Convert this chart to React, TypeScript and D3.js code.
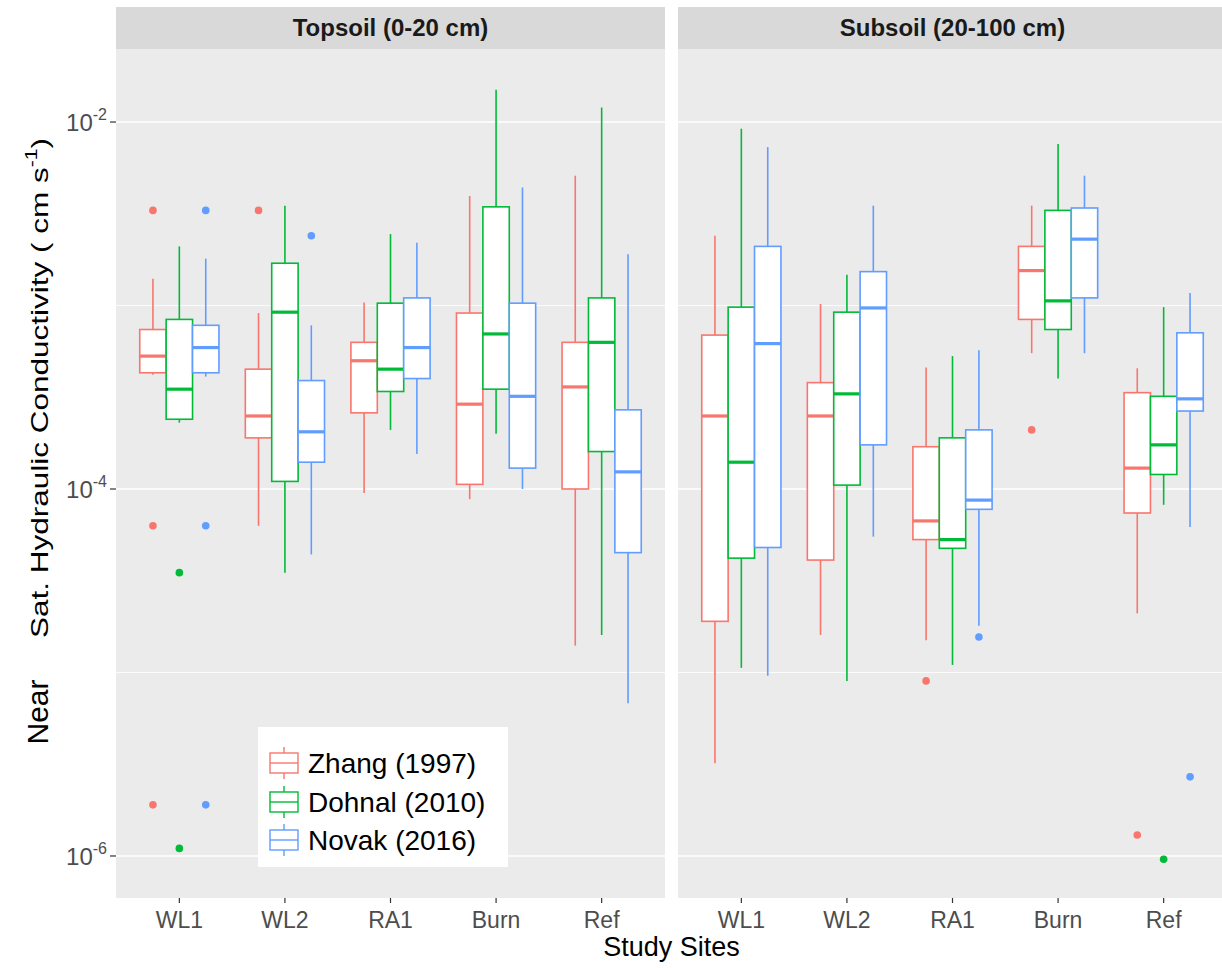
import React from "react";
import * as d3 from "d3";

const SITES = ["WL1", "WL2", "RA1", "Burn", "Ref"];
const STUDIES = ["Zhang (1997)", "Dohnal (2010)", "Novak (2016)"];
const DEPTHS = ["Topsoil (0-20 cm)", "Subsoil (20-100 cm)"];
const COLORS = ["#F8766D", "#00BA38", "#619CFF"];

// box stats per site: [lower whisker, Q1, median, Q3, upper whisker]  (cm s-1)
const topZhang = [
  [4.2e-4, 4.3e-4, 5.3e-4, 7.4e-4, 1.4e-3],
  [6.3e-5, 1.9e-4, 2.5e-4, 4.5e-4, 9.1e-4],
  [9.5e-5, 2.6e-4, 5.0e-4, 6.3e-4, 1.04e-3],
  [8.8e-5, 1.06e-4, 2.9e-4, 9.1e-4, 3.95e-3],
  [1.4e-5, 1.0e-4, 3.6e-4, 6.3e-4, 5.1e-3],
];
const topDohnal = [
  [2.3e-4, 2.4e-4, 3.5e-4, 8.4e-4, 2.1e-3],
  [3.5e-5, 1.1e-4, 9.2e-4, 1.7e-3, 3.5e-3],
  [2.1e-4, 3.4e-4, 4.5e-4, 1.03e-3, 2.45e-3],
  [2.0e-4, 3.5e-4, 7.0e-4, 3.45e-3, 1.5e-2],
  [1.6e-5, 1.6e-4, 6.3e-4, 1.1e-3, 1.2e-2],
];
const topNovak = [
  [4.1e-4, 4.3e-4, 5.9e-4, 7.8e-4, 1.8e-3],
  [4.4e-5, 1.4e-4, 2.05e-4, 3.9e-4, 7.8e-4],
  [1.55e-4, 4.0e-4, 5.9e-4, 1.1e-3, 2.2e-3],
  [1.0e-4, 1.3e-4, 3.2e-4, 1.03e-3, 4.4e-3],
  [6.8e-6, 4.5e-5, 1.24e-4, 2.7e-4, 1.9e-3],
];
const subZhang = [
  [3.2e-6, 1.9e-5, 2.5e-4, 6.9e-4, 2.4e-3],
  [1.6e-5, 4.1e-5, 2.5e-4, 3.8e-4, 1.02e-3],
  [1.5e-5, 5.3e-5, 6.7e-5, 1.7e-4, 4.6e-4],
  [5.5e-4, 8.4e-4, 1.55e-3, 2.1e-3, 3.5e-3],
  [2.1e-5, 7.4e-5, 1.3e-4, 3.35e-4, 4.55e-4],
];
const subDohnal = [
  [1.06e-5, 4.2e-5, 1.4e-4, 9.8e-4, 9.2e-3],
  [9.0e-6, 1.05e-4, 3.3e-4, 9.2e-4, 1.47e-3],
  [1.1e-5, 4.75e-5, 5.3e-5, 1.9e-4, 5.3e-4],
  [4.0e-4, 7.4e-4, 1.06e-3, 3.3e-3, 7.6e-3],
  [8.2e-5, 1.2e-4, 1.74e-4, 3.2e-4, 9.8e-4],
];
const subNovak = [
  [9.6e-6, 4.8e-5, 6.2e-4, 2.1e-3, 7.3e-3],
  [5.5e-5, 1.74e-4, 9.7e-4, 1.53e-3, 3.5e-3],
  [1.8e-5, 7.75e-5, 8.7e-5, 2.1e-4, 5.7e-4],
  [5.5e-4, 1.1e-3, 2.3e-3, 3.4e-3, 5.1e-3],
  [6.2e-5, 2.66e-4, 3.1e-4, 7.1e-4, 1.17e-3],
];

// outliers: [site, study index, value]
const topOutliers: [string, number, number][] = [
  ["WL1", 0, 3.3e-3], ["WL1", 0, 6.3e-5], ["WL1", 0, 1.9e-6],
  ["WL1", 1, 3.5e-5], ["WL1", 1, 1.1e-6],
  ["WL1", 2, 3.3e-3], ["WL1", 2, 6.3e-5], ["WL1", 2, 1.9e-6],
  ["WL2", 0, 3.3e-3], ["WL2", 2, 2.4e-3],
];
const subOutliers: [string, number, number][] = [
  ["RA1", 0, 9.0e-6], ["RA1", 2, 1.56e-5],
  ["Burn", 0, 2.1e-4],
  ["Ref", 0, 1.3e-6], ["Ref", 1, 9.6e-7], ["Ref", 2, 2.7e-6],
];

const Y_MAJOR = [1e-6, 1e-4, 1e-2];
const Y_MINOR = [1e-5, 1e-3];
const Y_LABELS = ["-6", "-4", "-2"];

const FONT = "'Liberation Sans', Arial, Helvetica, sans-serif";

const W = 1222;
const H = 968;
const PANEL_TOP = 49;
const PANEL_BOTTOM = 898;
const STRIP_TOP = 7;
const PANEL_X = [[116, 665], [678, 1227]];

const panels = [
  { stats: [topZhang, topDohnal, topNovak], outliers: topOutliers },
  { stats: [subZhang, subDohnal, subNovak], outliers: subOutliers },
];

const y = d3.scaleLog()
  .domain([Math.pow(10, -6.229), Math.pow(10, -1.602)])
  .range([PANEL_BOTTOM, PANEL_TOP]);

function Panel({ idx }: { idx: number }) {
  const [x0, x1] = PANEL_X[idx];
  const x = d3.scalePoint().domain(SITES).range([x0, x1]).padding(0.6);
  const step = x.step();
  const dodge = d3.scaleBand().domain(STUDIES).range([-0.375 * step, 0.375 * step]);
  const bw = dodge.bandwidth();
  const { stats, outliers } = panels[idx];

  return (
    <g>
      <rect x={x0} y={PANEL_TOP} width={x1 - x0} height={PANEL_BOTTOM - PANEL_TOP} fill="#EBEBEB" />
      {Y_MINOR.map(v => (
        <line key={"mn" + v} x1={x0} x2={x1} y1={y(v)} y2={y(v)} stroke="#fff" strokeWidth={0.8} />
      ))}
      {Y_MAJOR.map(v => (
        <line key={"mj" + v} x1={x0} x2={x1} y1={y(v)} y2={y(v)} stroke="#fff" strokeWidth={1.6} />
      ))}
      {/* strip */}
      <rect x={x0} y={STRIP_TOP} width={x1 - x0} height={PANEL_TOP - STRIP_TOP} fill="#D9D9D9" />
      <text x={(x0 + x1) / 2} y={(STRIP_TOP + PANEL_TOP) / 2 + 8} textAnchor="middle"
        fontFamily={FONT} fontWeight="bold" fontSize={24} fill="#1A1A1A">{DEPTHS[idx]}</text>

      {SITES.map((site, si) => (
        <g key={site}>
          {STUDIES.map((study, k) => {
            const [lo, q1, med, q3, hi] = stats[k][si];
            const cx = (x(site) as number) + (dodge(study) as number) + bw / 2;
            const left = cx - bw / 2;
            const col = COLORS[k];
            return (
              <g key={study}>
                <line x1={cx} x2={cx} y1={y(hi)} y2={y(q3)} stroke={col} strokeWidth={1.6} />
                <line x1={cx} x2={cx} y1={y(q1)} y2={y(lo)} stroke={col} strokeWidth={1.6} />
                <rect x={left} y={y(q3)} width={bw} height={y(q1) - y(q3)} fill="#fff" stroke={col} strokeWidth={1.6} />
                <line x1={left} x2={left + bw} y1={y(med)} y2={y(med)} stroke={col} strokeWidth={3.2} />
              </g>
            );
          })}
        </g>
      ))}
      {outliers.map(([site, k, v], i) => (
        <circle key={"o" + i}
          cx={(x(site) as number) + (dodge(STUDIES[k]) as number) + bw / 2}
          cy={y(v)} r={3.8} fill={COLORS[k]} />
      ))}

      {/* x axis */}
      {SITES.map(site => (
        <g key={"t" + site}>
          <line x1={x(site)} x2={x(site)} y1={PANEL_BOTTOM} y2={PANEL_BOTTOM + 5} stroke="#333" strokeWidth={1.2} />
          <text x={x(site)} y={PANEL_BOTTOM + 30} textAnchor="middle" fontFamily={FONT}
            fontSize={23} fill="#4D4D4D">{site}</text>
        </g>
      ))}
    </g>
  );
}

export default function App() {
  const legendRows = [763, 802, 840];
  return (
    <>
      <style>{`body{margin:0;}`}</style>
      <svg width={W} height={H} style={{ display: "block", background: "#fff" }}>
        <Panel idx={0} />
        <Panel idx={1} />

        {/* y axis */}
        {Y_MAJOR.map((v, i) => (
          <g key={"y" + v}>
            <line x1={110} x2={116} y1={y(v)} y2={y(v)} stroke="#333" strokeWidth={1.2} />
            <text x={107} y={y(v) + 9} textAnchor="end" fontFamily={FONT} fontSize={24} fill="#4D4D4D">
              10<tspan fontSize={16} dy={-11}>{Y_LABELS[i]}</tspan>
            </text>
          </g>
        ))}

        {/* axis titles */}
        <text x={(PANEL_X[0][0] + PANEL_X[1][1]) / 2} y={956} textAnchor="middle"
          fontFamily={FONT} fontSize={27} fill="#000">Study Sites</text>
        <g transform="translate(48,388) rotate(-90)">
          <text x={0} y={0} textAnchor="middle" fontFamily={FONT} fontSize={24} fill="#000"
            textLength={500} lengthAdjust="spacingAndGlyphs">
            Sat. Hydraulic Conductivity ( cm s<tspan fontSize={16} dy={-11}>-1</tspan><tspan dy={11}>)</tspan>
          </text>
        </g>
        <g transform="translate(48,712) rotate(-90)">
          <text x={0} y={0} textAnchor="middle" fontFamily={FONT} fontSize={30} fill="#000">Near</text>
        </g>

        {/* legend */}
        <rect x={258} y={727} width={250} height={140} fill="#fff" />
        {STUDIES.map((s, k) => {
          const cy = legendRows[k];
          const col = COLORS[k];
          return (
            <g key={"lg" + s}>
              <line x1={284} x2={284} y1={cy - 16} y2={cy + 16} stroke={col} strokeWidth={1.4} />
              <rect x={270} y={cy - 10} width={28} height={20} fill="#fff" stroke={col} strokeWidth={1.4} />
              <line x1={270} x2={298} y1={cy} y2={cy} stroke={col} strokeWidth={1.4} />
              <text x={308} y={cy + 10} fontFamily={FONT} fontSize={28} fill="#000">{s}</text>
            </g>
          );
        })}
      </svg>
    </>
  );
}
